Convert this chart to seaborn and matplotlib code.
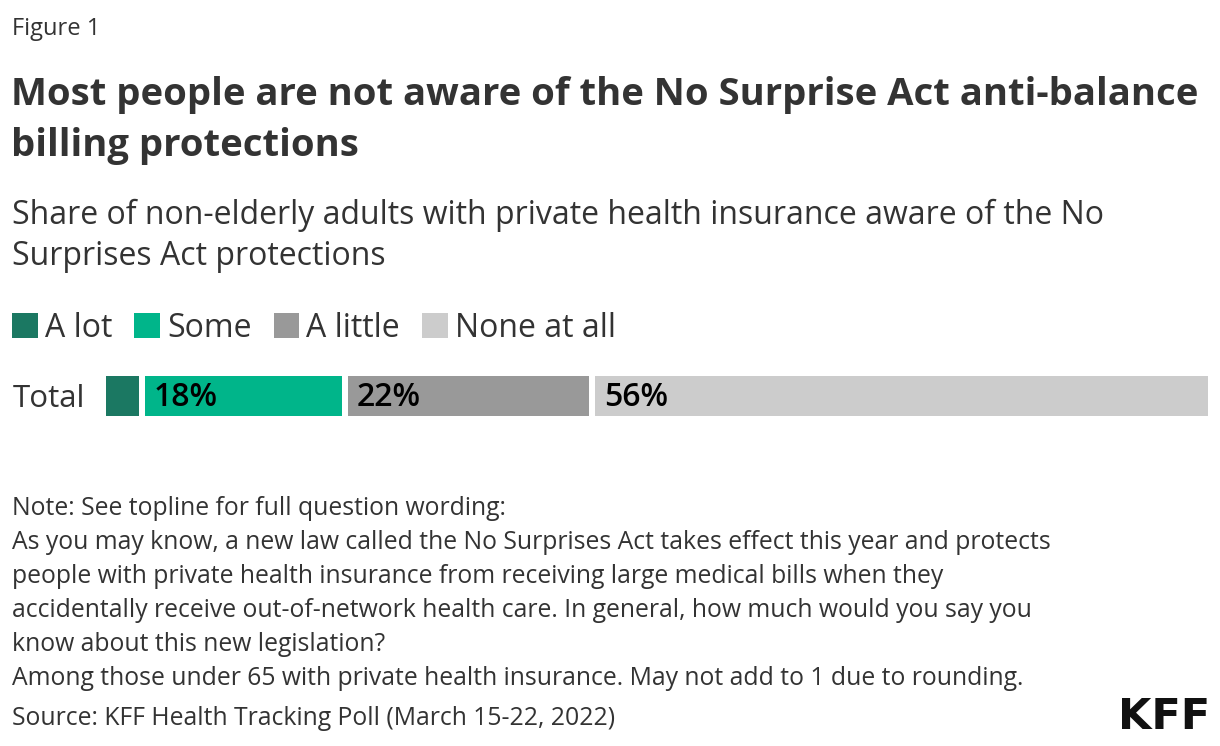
import matplotlib
matplotlib.use("Agg")
import matplotlib.pyplot as plt
import seaborn as sns
import pandas as pd

# ---- data ----
categories = ["A lot", "Some", "A little", "None at all"]
values = [3, 18, 22, 56]
bar_labels = ["", "18%", "22%", "56%"]
row_label = "Total"
colors = ["#1b7862", "#00b58a", "#999999", "#cccccc"]

title_lines = ["Most people are not aware of the No Surprise Act anti-balance",
               "billing protections"]
subtitle_lines = ["Share of non-elderly adults with private health insurance aware of the No",
                  "Surprises Act protections"]
note_lines = [
    "Note: See topline for full question wording:",
    "As you may know, a new law called the No Surprises Act takes effect this year and protects",
    "people with private health insurance from receiving large medical bills when they",
    "accidentally receive out-of-network health care. In general, how much would you say you",
    "know about this new legislation?",
    "Among those under 65 with private health insurance. May not add to 1 due to rounding.",
]
source_line = "Source: KFF Health Tracking Poll (March 15-22, 2022)"

df = pd.DataFrame({"category": categories, "value": values, "label": bar_labels})

sns.set_theme(style="white")
plt.rcParams["font.family"] = ["Open Sans", "DejaVu Sans"]

W, H = 1220, 746
fig = plt.figure(figsize=(W / 100, H / 100), dpi=100)
fig.patch.set_facecolor("white")

def fy(px):
    return 1 - px / H

def fx(px):
    return px / W

TXT = "#333333"

# bar axes
bx0, bx1, by0, by1 = 106, 1208, 376, 416
ax = fig.add_axes([fx(bx0), fy(by1), fx(bx1 - bx0), (by1 - by0) / H])
gap_px = 6
total = df["value"].sum()
ppu = ((bx1 - bx0) - gap_px * (len(df) - 1)) / total
gap = gap_px / ppu
label_base = 0.5 - (406 - by0) / (by1 - by0)
left = 0.0
handles = []
for i, r in df.iterrows():
    h = ax.barh([0], [r["value"]], left=left, height=1.0, color=colors[i],
                label=r["category"], linewidth=0)
    handles.append(h)
    if r["label"]:
        ax.text(left + 9 / ppu, -label_base, r["label"], va="baseline", ha="left",
                fontsize=23, fontweight="semibold", color="black")
    left += r["value"] + gap
ax.set_xlim(0, left - gap)
ax.set_ylim(0.5, -0.5)
ax.axis("off")

fig.text(fx(13), fy(407), row_label, fontsize=22.5, color=TXT, va="baseline", ha="left")

# legend
leg = fig.legend(handles=handles, labels=categories, loc="center left",
                 bbox_to_anchor=(fx(12), fy(328)), ncol=4, frameon=False,
                 fontsize=23, handlelength=0.8, handleheight=0.85,
                 handletextpad=0.22, columnspacing=0.7, borderaxespad=0,
                 borderpad=0)
for t in leg.get_texts():
    t.set_color(TXT)

# header texts
fig.text(fx(12), fy(35), "Figure 1", fontsize=17, color=TXT, va="baseline")
for i, line in enumerate(title_lines):
    fig.text(fx(11), fy(105 + 51 * i), line, fontsize=27.5, fontweight="bold",
             color=TXT, va="baseline")
for i, line in enumerate(subtitle_lines):
    fig.text(fx(12), fy(224 + 41 * i), line, fontsize=23, color=TXT, va="baseline")

for i, line in enumerate(note_lines):
    fig.text(fx(12), fy(515 + 34 * i), line, fontsize=17.8, color=TXT, va="baseline")
fig.text(fx(12), fy(725), source_line, fontsize=17.8, color=TXT, va="baseline")

fig.text(fx(1210), fy(729), "KFF", fontsize=31, fontweight="bold", color="#111111",
         ha="right", va="baseline", family="DejaVu Sans")

fig.savefig("out.png", dpi=100, facecolor="white")
